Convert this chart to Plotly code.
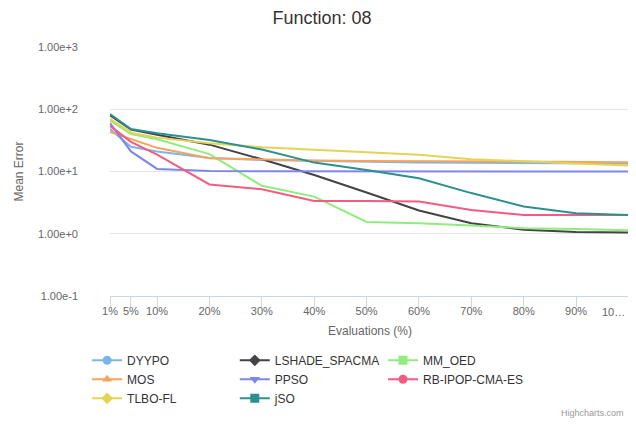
import plotly.graph_objects as go

evaluations = [1, 5, 10, 20, 30, 40, 50, 60, 70, 80, 90, 100]
tick_labels = ["1%", "5%", "10%", "20%", "30%", "40%", "50%", "60%", "70%", "80%", "90%", ""]
last_tick_label = "10…"

DYYPO = [48, 25, 21, 16.5, 15.3, 14.8, 14.5, 14.0, 13.8, 13.6, 13.5, 13.4]
LSHADE_SPACMA = [80, 47, 39, 27, 15.7, 8.8, 4.6, 2.36, 1.48, 1.16, 1.07, 1.05]
MM_OED = [66, 40, 33, 19, 5.9, 3.95, 1.55, 1.48, 1.36, 1.23, 1.19, 1.14]
MOS = [43, 33, 24, 16.3, 15.6, 15.0, 14.8, 14.6, 14.4, 14.3, 14.2, 14.1]
PPSO = [60, 21, 11, 10.2, 10.1, 10.05, 10.0, 10.0, 10.0, 10.0, 10.0, 10.0]
RB_IPOP_CMA_ES = [54, 30, 18.6, 6.2, 5.2, 3.37, 3.35, 3.3, 2.4, 2.0, 2.0, 2.0]
TLBO_FL = [70, 42, 35, 28.5, 24.5, 22.2, 20.4, 18.5, 15.8, 14.8, 13.5, 12.5]
jSO = [84, 48, 41, 32, 22.5, 13.9, 10.6, 7.8, 4.5, 2.74, 2.14, 2.0]

# name, values, colour, symbol, legend column
series = [
    ("DYYPO", DYYPO, "#7cb5ec", "circle", "legend"),
    ("LSHADE_SPACMA", LSHADE_SPACMA, "#434348", "diamond", "legend2"),
    ("MM_OED", MM_OED, "#90ed7d", "square", "legend3"),
    ("MOS", MOS, "#f7a35c", "triangle-up", "legend"),
    ("PPSO", PPSO, "#8085e9", "triangle-down", "legend2"),
    ("RB-IPOP-CMA-ES", RB_IPOP_CMA_ES, "#f15c80", "circle", "legend3"),
    ("TLBO-FL", TLBO_FL, "#e4d354", "diamond", "legend"),
    ("jSO", jSO, "#2b908f", "square", "legend2"),
]

fig = go.Figure()
for name, vals, color, sym, lg in series:
    fig.add_trace(go.Scatter(
        x=evaluations, y=vals, mode="lines", name=name, legendgroup=name,
        showlegend=False, line=dict(color=color, width=2),
    ))
for name, vals, color, sym, lg in series:
    fig.add_trace(go.Scatter(
        x=[None], y=[None], mode="lines+markers", name=name, legendgroup=name,
        legend=lg, line=dict(color=color, width=2),
        marker=dict(symbol=sym, size=9, color=color),
    ))

font_family = "Liberation Sans, Arial, sans-serif"
legend_common = dict(
    orientation="v", yanchor="top", y=-0.20, xanchor="left",
    font=dict(size=12, color="#333333", family=font_family),
    tracegroupgap=0, itemsizing="trace", bgcolor="rgba(0,0,0,0)",
)
# The page body adds an 8 px margin, so the figure is 8 px smaller than the window.
fig.update_layout(
    width=628, height=416,
    margin=dict(l=102, r=6, t=39, b=128, autoexpand=False),
    paper_bgcolor="white", plot_bgcolor="white",
    font=dict(family=font_family, color="#666666"),
    title=dict(text="Function: 08", x=0.5, xanchor="center", xref="container",
               y=0.992, yanchor="top",
               font=dict(size=18, color="#333333", family=font_family)),
    xaxis=dict(
        range=[1, 100.3], tickvals=evaluations, ticktext=tick_labels,
        showgrid=False, zeroline=False, automargin=False,
        showline=True, linecolor="#ccd6eb", linewidth=1,
        ticks="outside", ticklen=10, tickcolor="#ccd6eb", ticklabelstandoff=-5,
        tickfont=dict(size=11, color="#666666"),
        title=dict(text="Evaluations (%)", font=dict(size=12, color="#666666"), standoff=10),
    ),
    yaxis=dict(
        type="log", range=[-1, 3], automargin=False,
        tickvals=[0.1, 1, 10, 100, 1000],
        ticktext=["1.00e-1", "1.00e+0", "1.00e+1", "1.00e+2", "1.00e+3"],
        showgrid=True, gridcolor="#e6e6e6", gridwidth=1, zeroline=False,
        showline=False, ticks="", ticklabelstandoff=31,
        tickfont=dict(size=11, color="#666666"),
        title=dict(text="Mean Error", font=dict(size=12, color="#666666"), standoff=11),
    ),
    legend=dict(x=-0.044, **legend_common),
    legend2=dict(x=0.240, **legend_common),
    legend3=dict(x=0.525, **legend_common),
    showlegend=True,
)
fig.add_annotation(
    text=last_tick_label, xref="x", yref="paper", x=evaluations[-1], y=-0.066,
    xanchor="right", yanchor="middle", xshift=-1, showarrow=False,
    font=dict(size=11, color="#666666", family=font_family),
)
fig.add_annotation(
    text="Highcharts.com", xref="paper", yref="paper", x=0.992, y=-0.47,
    xanchor="right", yanchor="middle", showarrow=False,
    font=dict(size=9, color="#999999", family=font_family),
)

fig.write_html("out.html")
